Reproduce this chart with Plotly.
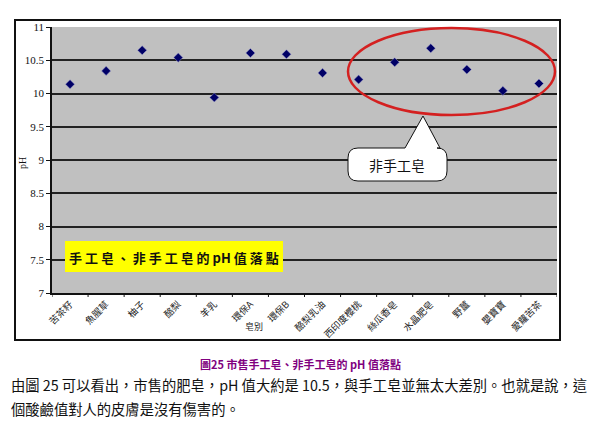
import plotly.graph_objects as go

categories = ["苦茶籽", "魚腥草", "柚子", "酪梨", "羊乳", "環保A", "環保B", "酪梨乳油",
              "西印度櫻桃", "絲瓜香皂", "水晶肥皂", "野薑", "嬰寶寶", "愛蘿苦茶"]
ph_values = [10.14, 10.34, 10.65, 10.54, 9.94, 10.61, 10.59, 10.31,
             10.21, 10.47, 10.68, 10.36, 10.04, 10.15]
y_ticks = [7, 7.5, 8, 8.5, 9, 9.5, 10, 10.5, 11]

# page offset (body margin) and plot area in window pixels
OFF = 8
L, R, T, B = 52, 557, 27, 293
W, H = 600 - OFF, 425 - OFF


def px(x):
    return (x - L) / (R - L)


def py(y):
    return (B - y) / (B - T)


fig = go.Figure()
fig.add_trace(go.Scatter(
    x=list(range(len(categories))), y=ph_values, mode="markers",
    marker=dict(symbol="diamond", size=7, color="#000066",
                line=dict(color="#9999cc", width=0.5)),
    hoverinfo="y", showlegend=False))

shapes = []
# outer chart border
shapes.append(dict(type="rect", xref="paper", yref="paper",
                   x0=px(15), x1=px(560), y0=py(340), y1=py(20),
                   line=dict(color="#111", width=2), fillcolor="rgba(0,0,0,0)", layer="below"))
# red ellipse
shapes.append(dict(type="circle", xref="paper", yref="paper",
                   x0=px(348), x1=px(555), y0=py(115), y1=py(28),
                   line=dict(color="#d42020", width=2.5)))
# callout
pts = [("M", 358, 148), ("L", 405, 148), ("L", 423, 116), ("L", 440, 148), ("L", 437, 148)]
path = ""
for c, a, b in pts:
    path += f"{c}{px(a):.5f},{py(b):.5f} "
path += f"Q{px(447):.5f},{py(148):.5f} {px(447):.5f},{py(158):.5f} "
path += f"L{px(447):.5f},{py(171):.5f} "
path += f"Q{px(447):.5f},{py(181):.5f} {px(437):.5f},{py(181):.5f} "
path += f"L{px(358):.5f},{py(181):.5f} "
path += f"Q{px(348):.5f},{py(181):.5f} {px(348):.5f},{py(171):.5f} "
path += f"L{px(348):.5f},{py(158):.5f} "
path += f"Q{px(348):.5f},{py(148):.5f} {px(358):.5f},{py(148):.5f} Z"
shapes.append(dict(type="path", xref="paper", yref="paper", path=path,
                   fillcolor="white", line=dict(color="#111", width=1)))
# yellow label box
shapes.append(dict(type="rect", xref="paper", yref="paper",
                   x0=px(65), x1=px(283), y0=py(272), y1=py(241),
                   fillcolor="#ffff00", line=dict(width=0)))

annotations = [
    dict(text="非手工皂", xref="paper", yref="paper", x=px(397), y=py(165),
         xanchor="center", yanchor="middle",
         showarrow=False, font=dict(family="Noto Sans CJK TC", size=14, color="#111")),
    dict(text="<b>手 工 皂 、 非 手 工 皂 的 pH 值 落 點</b>", xref="paper", yref="paper",
         x=px(174), y=py(257), xanchor="center", yanchor="middle", showarrow=False,
         font=dict(family="Noto Sans CJK TC", size=13, color="#111")),
    dict(text="皂別", xref="x", yref="paper", x=5.1, y=py(326), showarrow=False,
         xanchor="center", yanchor="middle",
         font=dict(family="Noto Sans CJK TC", size=9, color="#222")),
    dict(text="pH", xref="paper", yref="paper", x=px(22), y=py(163), showarrow=False,
         xanchor="center", yanchor="middle",
         textangle=-90, font=dict(family="Liberation Serif", size=10, color="#111")),
    dict(text="<b>圖25 市售手工皂、非手工皂的 pH 值落點</b>", xref="paper", yref="paper",
         x=px(300), y=py(364), showarrow=False, xanchor="center", yanchor="middle",
         font=dict(family="Noto Sans CJK TC", size=11, color="#800080")),
    dict(text="由圖 25 可以看出，市售的肥皂，pH 值大約是 10.5，與手工皂並無太大差別。也就是說，這",
         xref="paper", yref="paper", x=px(9), y=py(385), xanchor="left", yanchor="middle",
         showarrow=False, font=dict(family="Noto Sans CJK TC", size=14.3, color="#111")),
    dict(text="個酸鹼值對人的皮膚是沒有傷害的。",
         xref="paper", yref="paper", x=px(9), y=py(408), xanchor="left", yanchor="middle",
         showarrow=False, font=dict(family="Noto Sans CJK TC", size=14.3, color="#111")),
]

fig.update_layout(
    width=W, height=H,
    margin=dict(l=L - OFF, r=600 - R, t=T - OFF, b=425 - B, pad=0),
    paper_bgcolor="white", plot_bgcolor="#c0c0c0",
    shapes=shapes, annotations=annotations,
    xaxis=dict(tickmode="array", tickvals=list(range(len(categories))), ticktext=categories,
               range=[-0.5, len(categories) - 0.5], tickangle=-45, automargin=False,
               tickfont=dict(family="Noto Sans CJK TC", size=9.5, color="#222"),
               showgrid=False, zeroline=False, showline=True, linecolor="#111", linewidth=2,
               ticks="", mirror=False),
    yaxis=dict(range=[7, 11], tickvals=y_ticks, ticktext=[f"{v:g}" for v in y_ticks],
               automargin=False,
               tickfont=dict(family="Liberation Serif", size=11, color="#111"),
               showgrid=True, gridcolor="#222", gridwidth=1.5, zeroline=False,
               showline=True, linecolor="#111", linewidth=1.5,
               ticks="outside", ticklen=4, tickcolor="#111"),
)

# category boundary ticks on x axis
for i in range(len(categories) + 1):
    fig.add_shape(type="line", xref="x", yref="paper", x0=i - 0.5, x1=i - 0.5,
                  y0=0, y1=-0.015, line=dict(color="#111", width=1))

fig.write_html("out.html")
